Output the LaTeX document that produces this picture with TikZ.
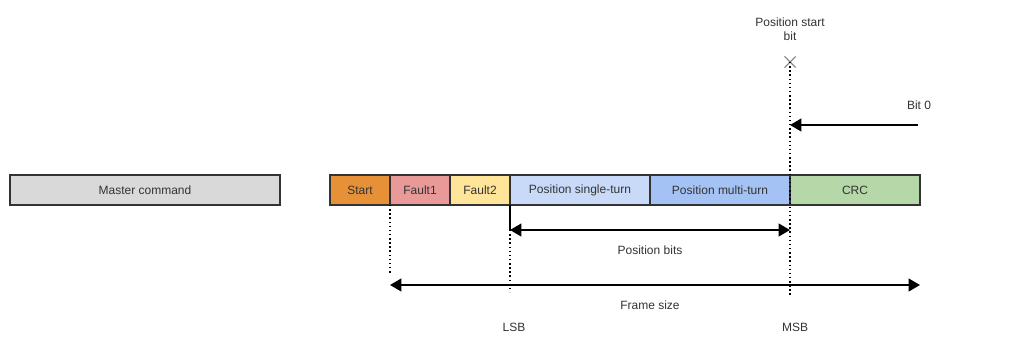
\documentclass[tikz,border=0pt]{standalone}
\usepackage{fontspec}
\setmainfont{Liberation Sans}
\usetikzlibrary{arrows.meta,positioning,calc,shapes.misc}

\definecolor{masterc}{HTML}{D9D9D9}
\definecolor{startc}{HTML}{E69138}
\definecolor{faultac}{HTML}{EA9999}
\definecolor{faultbc}{HTML}{FFE599}
\definecolor{singlec}{HTML}{C9DAF8}
\definecolor{multic}{HTML}{A4C2F4}
\definecolor{crcc}{HTML}{B6D7A8}
\definecolor{linec}{HTML}{333333}

\tikzset{
  field/.style={draw=linec,line width=1.5pt,minimum height=22.5pt,inner sep=0pt,outer sep=0pt,
    font=\fontsize{9}{10.5}\selectfont,text=linec},
  lbl/.style={font=\fontsize{9}{10.5}\selectfont,text=linec,align=center},
  tip/.style={-{Triangle[length=8.5pt,width=9.5pt]}},
  span/.style={line width=1.5pt,{Triangle[length=8.5pt,width=9.5pt]}-{Triangle[length=8.5pt,width=9.5pt]}},
  guide/.style={line width=1.1pt,dotted}
}

\begin{document}
\begin{tikzpicture}[x=0.75pt,y=-0.75pt]
    \useasboundingbox (0,0) rectangle (1013,354);
    % frame fields
    \node[field,fill=masterc,minimum width=202.5pt,anchor=west] (master) at (10,190) {Master command};
    \node[field,fill=startc,minimum width=45pt,anchor=west] (start) at (330,190) {Start};
    \node[field,fill=faultac,minimum width=45pt,right=0pt of start] (fault1) {Fault1};
    \node[field,fill=faultbc,minimum width=45pt,right=0pt of fault1] (fault2) {Fault2};
    \node[field,fill=singlec,minimum width=105pt,right=0pt of fault2] (single) {Position single-turn};
    \node[field,fill=multic,minimum width=105pt,right=0pt of single] (multi) {Position multi-turn};
    \node[field,fill=crcc,minimum width=97.5pt,right=0pt of multi] (crc) {CRC};
    % position start bit
    \node[draw=gray,cross out,line width=0.8pt,minimum size=7.5pt,inner sep=0pt] (psb) at (790,62) {};
    \node[lbl] (psbtext) at (790,29) {Position start\\bit};
    \coordinate (msbend) at (790,295);
    \draw[guide] (psb.center) -- (msbend);
    % bit 0
    \coordinate (bitsrc) at (918,125);
    \coordinate (bitdst) at (790,125);
    \node[lbl] (bit0) at (919,105) {Bit 0};
    \draw[line width=1.5pt,tip] (bitsrc) -- (bitdst);
    % position bits
    \coordinate (lsbtop) at (510,230);
    \coordinate (lsbend) at (510,292);
    \draw[line width=1.5pt] (single.south west) -- (lsbtop);
    \draw[guide] (lsbtop) -- (lsbend);
    \coordinate (posR) at (790,230);
    \draw[span] (lsbtop) -- (posR);
    \node[lbl] (posbits) at (650,250) {Position bits};
    % frame size
    \coordinate (frameend) at (390,275);
    \draw[guide] (fault1.south west) -- (frameend);
    \coordinate (frameL) at (390,285);
    \coordinate (frameR) at (920,285);
    \draw[span] (frameL) -- (frameR);
    \node[lbl] (framesize) at (650,305) {Frame size};
    % bit order
    \node[lbl] (lsb) at (514,327) {LSB};
    \node[lbl] (msb) at (795,327) {MSB};
\end{tikzpicture}
\end{document}
